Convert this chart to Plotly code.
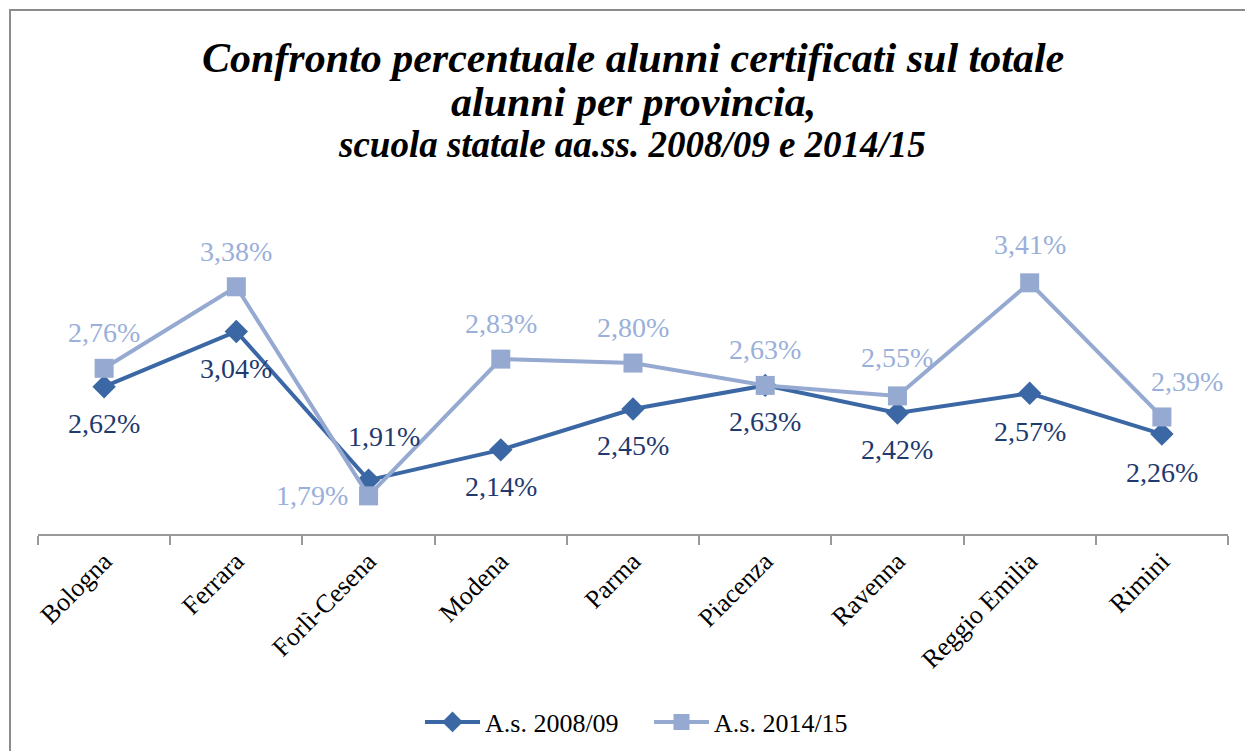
import plotly.graph_objects as go

categories = ["Bologna", "Ferrara", "Forlì-Cesena", "Modena", "Parma", "Piacenza",
              "Ravenna", "Reggio Emilia", "Rimini"]
serie_2008 = [2.62, 3.04, 1.91, 2.14, 2.45, 2.63, 2.42, 2.57, 2.26]
serie_2014 = [2.76, 3.38, 1.79, 2.83, 2.80, 2.63, 2.55, 3.41, 2.39]
name_2008 = "A.s. 2008/09"
name_2014 = "A.s. 2014/15"

# label offsets (pixels)
off_2008 = [(0, -37), (0, -37), (15, 44), (0, -37), (0, -36), (0, -36), (0, -36), (0, -38), (0, -38)]
off_2014 = [(0, 36), (0, 35), (-57, 0), (0, 36), (0, 36), (0, 36), (0, 38), (0, 38), (25, 35)]

C1 = "#3B68A4"
C2 = "#95A9D1"
L1 = "#1F3A6E"
L2 = "#9AB0DA"
FONT = "Liberation Serif"

fig = go.Figure()
fig.add_trace(go.Scatter(x=categories, y=serie_2008, name=name_2008, mode="lines+markers",
                         line=dict(color=C1, width=4),
                         marker=dict(symbol="diamond", size=18, color=C1)))
fig.add_trace(go.Scatter(x=categories, y=serie_2014, name=name_2014, mode="lines+markers",
                         line=dict(color=C2, width=4),
                         marker=dict(symbol="square", size=19, color=C2)))

def fmt(v):
    return f"{v:.2f}".replace(".", ",") + "%"

annotations = []
for cat, v, (dx, dy) in zip(categories, serie_2008, off_2008):
    annotations.append(dict(x=cat, y=v, xref="x", yref="y", text=fmt(v), showarrow=False,
                            xshift=dx, yshift=dy, font=dict(family=FONT, size=28, color=L1)))
for cat, v, (dx, dy) in zip(categories, serie_2014, off_2014):
    annotations.append(dict(x=cat, y=v, xref="x", yref="y", text=fmt(v), showarrow=False,
                            xshift=dx, yshift=dy, font=dict(family=FONT, size=28, color=L2)))

# title lines (plot area spans px 271..534 vertically)
def py(px):
    return (534 - px) / 263

def pxx(px):
    return (px - 38) / 1190

title_font = dict(family=FONT, size=42, color="black", weight="bold", style="italic")
annotations.append(dict(x=0.5, y=py(58), xref="paper", yref="paper", showarrow=False,
                        text="Confronto percentuale alunni certificati sul totale",
                        font=title_font, xanchor="center", yanchor="middle"))
annotations.append(dict(x=0.5, y=py(102), xref="paper", yref="paper", showarrow=False,
                        text="alunni per provincia,",
                        font=title_font, xanchor="center", yanchor="middle"))
annotations.append(dict(x=pxx(632), y=py(144), xref="paper", yref="paper", showarrow=False,
                        text="scuola statale aa.ss. 2008/09 e 2014/15",
                        font=dict(family=FONT, size=37, color="black", weight="bold", style="italic"),
                        xanchor="center", yanchor="middle"))

fig.update_layout(
    width=1245, height=751,
    font=dict(family=FONT),
    margin=dict(l=38, r=17, t=271, b=217, autoexpand=False),
    paper_bgcolor="white", plot_bgcolor="white",
    showlegend=True,
    legend=dict(orientation="h", x=pxx(420), xanchor="left", y=py(722), yanchor="middle",
                font=dict(family=FONT, size=26, color="black"), itemwidth=55,
                entrywidth=159, entrywidthmode="pixels"),
    annotations=annotations,
    shapes=[dict(type="rect", xref="paper", yref="paper",
                 x0=pxx(10), x1=1.2, y0=py(10), y1=-2,
                 line=dict(color="#8C8C8C", width=2), fillcolor="rgba(0,0,0,0)", layer="below")],
)
fig.update_xaxes(type="category", range=[-0.5, 8.5], showline=True, linecolor="#999999", linewidth=1.5,
                 ticks="outside", ticklen=9, tickcolor="#999999", tickwidth=1.5, tickson="boundaries",
                 tickangle=-45, tickfont=dict(family=FONT, size=26, color="black"),
                 showgrid=False, zeroline=False, automargin=False)
fig.update_yaxes(range=[1.5, 3.5], visible=False, showgrid=False, zeroline=False, automargin=False)

fig.write_html("out.html", config={"displayModeBar": False},
               post_script="document.body.style.margin='0';document.body.style.overflow='hidden';")
